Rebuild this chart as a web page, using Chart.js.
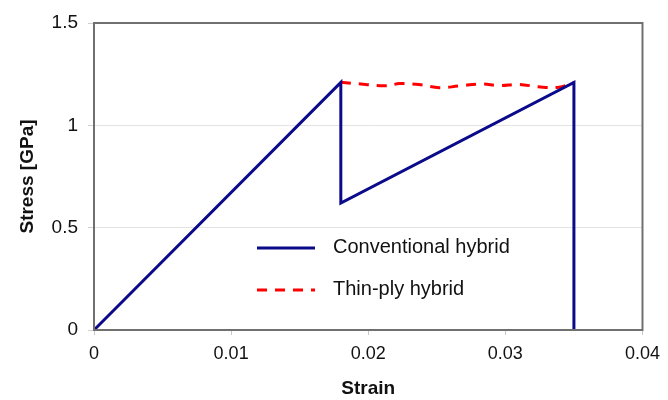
<!DOCTYPE html>
<html>
<head>
<meta charset="utf-8">
<script src="https://cdn.jsdelivr.net/npm/chart.js@4/dist/chart.umd.min.js"></script>
<style>
  html, body { margin: 0; padding: 0; background: #ffffff; }
  #wrap { width: 668px; height: 400px; }
</style>
</head>
<body>
<div id="wrap"><canvas id="c" width="668" height="400"></canvas></div>
<script>
// ---- data ----
const convStrain = [0, 0.018, 0.018, 0.035, 0.035];
const convStress = [0, 1.21, 0.62, 1.21, 0];
const thinStrain = [0.018, 0.0198, 0.0213, 0.0223, 0.0237, 0.0252, 0.0266, 0.0283, 0.0295, 0.031, 0.0324, 0.0339, 0.035];
const thinStress = [1.21, 1.2, 1.193, 1.204, 1.199, 1.184, 1.192, 1.202, 1.194, 1.2, 1.188, 1.186, 1.21];
const seriesNames = ["Conventional hybrid", "Thin-ply hybrid"];
const xTickValues = [0, 0.01, 0.02, 0.03, 0.04];
const yTickValues = [0, 0.5, 1, 1.5];
const xTitle = "Strain";
const yTitle = "Stress [GPa]";

const toPts = (xs, ys) => xs.map((x, i) => ({ x: x, y: ys[i] }));

const FONT = "'Liberation Sans', Arial, sans-serif";

const boxPlugin = {
  id: 'box',
  afterDraw(chart) {
    const a = chart.chartArea, ctx = chart.ctx;
    ctx.save();
    ctx.strokeStyle = '#707070';
    ctx.lineWidth = 2;
    ctx.strokeRect(a.left, a.top, a.right - a.left, a.bottom - a.top);
    ctx.restore();
  }
};

const legendPlugin = {
  id: 'innerLegend',
  afterDraw(chart) {
    const ctx = chart.ctx;
    const items = chart.data.datasets;
    const x0 = 257, x1 = 315, tx = 333;
    const ys = [248, 290];
    ctx.save();
    items.forEach((ds, i) => {
      ctx.beginPath();
      ctx.strokeStyle = ds.borderColor;
      ctx.lineWidth = ds.borderWidth;
      ctx.setLineDash(ds.borderDash || []);
      ctx.moveTo(x0, ys[i]);
      ctx.lineTo(x1, ys[i]);
      ctx.stroke();
      ctx.setLineDash([]);
      ctx.fillStyle = '#111';
      ctx.font = '20px ' + FONT;
      ctx.textBaseline = 'middle';
      ctx.textAlign = 'left';
      ctx.fillText(ds.label, tx, ys[i] - 1);
    });
    ctx.restore();
  }
};

new Chart(document.getElementById('c'), {
  type: 'scatter',
  data: {
    datasets: [
      {
        label: seriesNames[0],
        data: toPts(convStrain, convStress),
        showLine: true,
        borderColor: '#0a0a8a',
        backgroundColor: '#0a0a8a',
        borderWidth: 3,
        pointRadius: 0,
        tension: 0
      },
      {
        label: seriesNames[1],
        data: toPts(thinStrain, thinStress),
        showLine: true,
        borderColor: '#ff0000',
        backgroundColor: '#ff0000',
        borderWidth: 3,
        borderDash: [10, 8],
        pointRadius: 0,
        tension: 0.4
      }
    ]
  },
  options: {
    responsive: false,
    animation: false,
    layout: { padding: { left: 0, top: 23, right: 24, bottom: 0 } },
    plugins: { legend: { display: false }, tooltip: { enabled: false } },
    scales: {
      x: {
        type: 'linear',
        min: 0, max: 0.04,
        afterBuildTicks: (s) => { s.ticks = xTickValues.map(v => ({ value: v })); },
        afterFit: (s) => { s.height = 70; },
        border: { display: false },
        grid: { drawOnChartArea: false, drawTicks: true, tickLength: 5, tickColor: '#c8c8c8' },
        ticks: { color: '#111', font: { family: FONT, size: 18 }, padding: 8, maxRotation: 0,
                 callback: (v) => String(v) },
        title: { display: true, text: xTitle, color: '#111', font: { family: FONT, size: 19, weight: 'bold' }, padding: { top: 0, bottom: 0 } }
      },
      y: {
        type: 'linear',
        min: 0, max: 1.5,
        afterBuildTicks: (s) => { s.ticks = yTickValues.map(v => ({ value: v })); },
        afterFit: (s) => { s.width = 94; },
        border: { display: false },
        grid: { color: '#e3e3e3', lineWidth: 1, tickLength: 6, tickColor: '#d0d0d0' },
        ticks: { color: '#111', font: { family: FONT, size: 19 }, padding: 10,
                 callback: (v) => String(v) },
        title: { display: true, text: yTitle, color: '#111', font: { family: FONT, size: 19, weight: 'bold' }, padding: { top: 16, bottom: 0 } }
      }
    }
  },
  plugins: [boxPlugin, legendPlugin]
});
</script>
</body>
</html>
